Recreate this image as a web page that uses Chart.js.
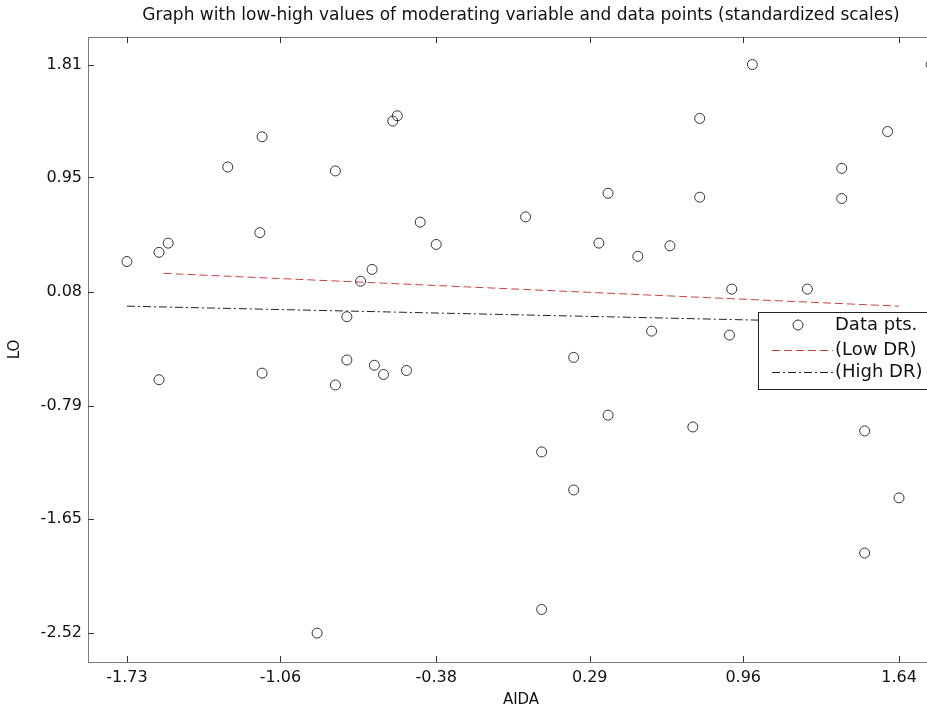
<!DOCTYPE html>
<html lang="en">
<head>
<meta charset="UTF-8">
<title>Low-high values of moderating variable</title>
<script src="https://cdn.jsdelivr.net/npm/chart.js"></script>
<style>
  html, body { margin: 0; padding: 0; background: #fff; overflow: hidden; }
  #wrap { position: relative; width: 960px; height: 711px; }
</style>
</head>
<body>
<div id="wrap"><canvas id="modChart" width="960" height="711"></canvas></div>
<script>
// scatter points (standardized)
const aida = [-1.73, -1.59, -1.55, -1.59, -1.29, -1.14, -1.15, -1.14, -0.90, -0.82,
              -0.82, -0.77, -0.77, -0.71, -0.66, -0.65, -0.61, -0.57, -0.55, -0.51,
              -0.45, -0.38, 0.01, 0.08, 0.08, 0.22, 0.22, 0.33, 0.37, 0.37,
              0.50, 0.56, 0.64, 0.74, 0.77, 0.77, 0.90, 0.91, 1.00, 1.24,
              1.39, 1.39, 1.49, 1.49, 1.59, 1.64, 1.78];
const lo = [0.31, 0.38, 0.45, -0.59, 1.03, 1.26, 0.53, -0.54, -2.52, 1.00,
            -0.63, -0.11, -0.44, 0.16, 0.25, -0.48, -0.55, 1.38, 1.42, -0.52,
            0.61, 0.44, 0.65, -2.34, -1.14, -0.42, -1.43, 0.45, 0.83, -0.86,
            0.35, -0.22, 0.43, -0.95, 1.40, 0.80, -0.25, 0.10, 1.81, 0.10,
            0.79, 1.02, -0.98, -1.91, 1.30, -1.49, 1.81];

// simple slopes
const lowDrX = [-1.57, 1.64];
const lowDrY = [0.22, -0.03];
const highDrX = [-1.73, 1.64];
const highDrY = [-0.03, -0.16];

const xTicks = [-1.73, -1.06, -0.38, 0.29, 0.96, 1.64];
const xTickLabels = ['-1.73', '-1.06', '-0.38', '0.29', '0.96', '1.64'];
const yTicks = [-2.52, -1.65, -0.79, 0.08, 0.95, 1.81];
const yTickLabels = ['-2.52', '-1.65', '-0.79', '0.08', '0.95', '1.81'];

const chartTitle = 'Graph with low-high values of moderating variable and data points (standardized scales)';
const FONT = "'DejaVu Sans', sans-serif";

// box round the plot with small inward ticks, like the matlab axes
// title is centred over the axes, not over the whole canvas
const axisBox = {
    id: 'axisBox',
    afterDraw(chart) {
        const { ctx, chartArea: a, scales: { x, y } } = chart;
        ctx.save();
        ctx.strokeStyle = '#7a7a7a';
        ctx.lineWidth = 1;
        ctx.strokeRect(a.left + 0.5, a.top + 0.5, a.right - a.left, a.bottom - a.top);
        ctx.strokeStyle = '#333';
        ctx.beginPath();
        x.ticks.forEach(t => {
            const px = Math.round(x.getPixelForValue(t.value)) + 0.5;
            ctx.moveTo(px, a.bottom); ctx.lineTo(px, a.bottom - 6);
            ctx.moveTo(px, a.top); ctx.lineTo(px, a.top + 6);
        });
        y.ticks.forEach(t => {
            const py = Math.round(y.getPixelForValue(t.value)) + 0.5;
            ctx.moveTo(a.left, py); ctx.lineTo(a.left + 6, py);
            ctx.moveTo(a.right, py); ctx.lineTo(a.right - 6, py);
        });
        ctx.stroke();

        ctx.fillStyle = '#111';
        ctx.font = '17px ' + FONT;
        ctx.textAlign = 'center';
        ctx.textBaseline = 'middle';
        ctx.fillText(chartTitle, (a.left + a.right) / 2, 16);
        ctx.restore();
    }
};

// legend box drawn inside the plot, right side
const boxLegend = {
    id: 'boxLegend',
    afterDraw(chart) {
        const { ctx } = chart;
        const sets = chart.data.datasets;
        const left = 758, top = 312, right = 975, bottom = 389;
        const rows = [325, 350, 372];
        ctx.save();
        ctx.fillStyle = '#fff';
        ctx.fillRect(left, top, right - left, bottom - top);
        ctx.strokeStyle = '#222';
        ctx.lineWidth = 1;
        ctx.strokeRect(left + 0.5, top + 0.5, right - left, bottom - top);
        ctx.font = '18px ' + FONT;
        ctx.textBaseline = 'middle';
        sets.forEach((ds, i) => {
            const ry = rows[i];
            if (i === 0) {
                ctx.beginPath();
                ctx.arc(798, ry, 5, 0, Math.PI * 2);
                ctx.strokeStyle = ds.pointBorderColor;
                ctx.setLineDash([]);
                ctx.stroke();
            } else {
                ctx.beginPath();
                ctx.setLineDash(ds.borderDash);
                ctx.strokeStyle = ds.borderColor;
                ctx.moveTo(772, ry + 0.5);
                ctx.lineTo(833, ry + 0.5);
                ctx.stroke();
                ctx.setLineDash([]);
            }
            ctx.fillStyle = '#111';
            ctx.fillText(ds.label, 835, ry);
        });
        ctx.restore();
    }
};

const ctx = document.getElementById('modChart').getContext('2d');
const chart = new Chart(ctx, {
    type: 'scatter',
    data: {
        datasets: [{
            label: 'Data pts.',
            data: aida.map((v, i) => ({ x: v, y: lo[i] })),
            showLine: false,
            pointStyle: 'circle',
            pointRadius: 5,
            pointBorderWidth: 1,
            pointBorderColor: '#333',
            pointBackgroundColor: 'rgba(0,0,0,0)'
        },
        {
            label: '(Low DR)',
            data: lowDrX.map((v, i) => ({ x: v, y: lowDrY[i] })),
            showLine: true,
            borderColor: '#c94040',
            borderWidth: 1,
            borderDash: [8, 4],
            pointRadius: 0
        },
        {
            label: '(High DR)',
            data: highDrX.map((v, i) => ({ x: v, y: highDrY[i] })),
            showLine: true,
            borderColor: '#222',
            borderWidth: 1,
            borderDash: [8, 3, 2, 3],
            pointRadius: 0
        }]
    },
    options: {
        responsive: false,
        animation: false,
        layout: { padding: { left: 0, right: 4, top: 37, bottom: 0 } },
        plugins: {
            legend: { display: false },
            tooltip: { enabled: false },
            title: { display: false }
        },
        scales: {
            x: {
                type: 'linear',
                min: -1.90,
                max: 1.88,
                afterBuildTicks: s => { s.ticks = xTicks.map(v => ({ value: v })); },
                afterFit: s => { s.height = 49; },
                grid: { display: false, drawTicks: false },
                border: { display: false },
                ticks: {
                    callback: (v, i) => xTickLabels[i],
                    autoSkip: false,
                    maxRotation: 0,
                    padding: 6,
                    color: '#111',
                    font: { family: FONT, size: 16 }
                },
                title: {
                    display: true,
                    text: 'AIDA',
                    color: '#111',
                    font: { family: FONT, size: 15 },
                    padding: { top: 0, bottom: 2 }
                }
            },
            y: {
                type: 'linear',
                min: -2.74,
                max: 2.02,
                afterBuildTicks: s => { s.ticks = yTicks.map(v => ({ value: v })); },
                afterFit: s => { s.width = 88; },
                grid: { display: false, drawTicks: false },
                border: { display: false },
                ticks: {
                    callback: (v, i) => yTickLabels[i],
                    autoSkip: false,
                    padding: 6,
                    color: '#111',
                    font: { family: FONT, size: 16 }
                },
                title: {
                    display: true,
                    text: 'LO',
                    color: '#111',
                    font: { family: FONT, size: 15 },
                    padding: { top: 6, bottom: 0 }
                }
            }
        }
    },
    plugins: [axisBox, boxLegend]
});
</script>
</body>
</html>
